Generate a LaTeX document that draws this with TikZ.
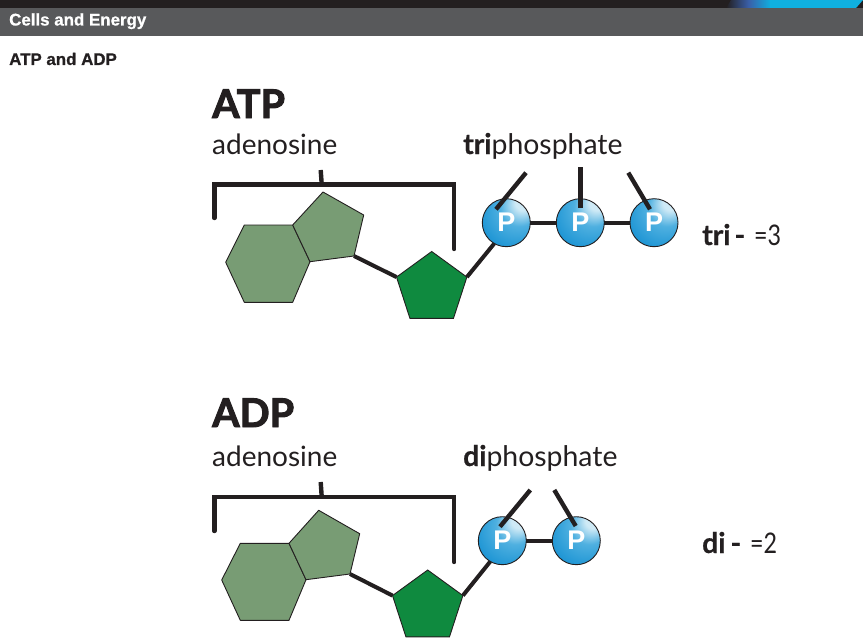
\documentclass[tikz,border=0pt]{standalone}
\usepackage{fontspec}
\setmainfont{Lato}[BoldFeatures={FakeBold=2.4}]
\newfontfamily\wordfont{Lato}[BoldFeatures={FakeBold=0.6}]
\newfontfamily\digitfont{Lato}[FakeStretch=0.82]
\newfontfamily\headfont{Liberation Sans}[BoldFeatures={FakeBold=0.8}]
\newfontfamily\ballfont{Liberation Sans}
\usetikzlibrary{shapes.geometric}
\definecolor{barblack}{HTML}{231F20}
\definecolor{bandgray}{HTML}{58595B}
\definecolor{ringgreen}{HTML}{789C74}
\definecolor{sugargreen}{HTML}{0F8A3F}
\definecolor{skyblue}{HTML}{0FB0E0}
\definecolor{swooshblue}{HTML}{3A5FA8}
\definecolor{ballglow}{HTML}{CFEAF6}
\definecolor{ballmid}{HTML}{4FB0E0}
\definecolor{ballbody}{HTML}{2197D5}
\definecolor{ballrim}{HTML}{1B86C4}
\pgfdeclareradialshading{phosball}{\pgfpoint{20bp}{24bp}}{%
  color(0bp)=(ballglow);
  color(8bp)=(ballglow);
  color(20bp)=(ballmid);
  color(36bp)=(ballbody);
  color(62bp)=(ballrim)}

\begin{document}
\begin{tikzpicture}[x=1pt, y=-1pt, >=stealth]
    \tikzset{
      ring/.style={draw=barblack, fill=ringgreen, line width=0.9pt, line join=round},
      sugar/.style={draw=barblack, fill=sugargreen, line width=0.9pt, regular polygon, regular polygon sides=5, minimum size=74pt, inner sep=0pt, outer sep=0pt},
      phos/.style={circle, draw=barblack, line width=0.9pt, shading=phosball, minimum size=48pt, inner sep=0pt, outer sep=0pt, text=white, font=\ballfont\bfseries\fontsize{27}{27}\selectfont},
      bar/.style={draw=barblack, line width=4.4pt},
      link/.style={draw=barblack, line width=4pt},
      bigname/.style={anchor=base west, inner sep=0pt, text=barblack, font=\fontsize{39.5}{40}\selectfont\bfseries},
      word/.style={anchor=base west, inner sep=0pt, text=barblack, font=\wordfont\fontsize{28.4}{28.4}\selectfont},
      stem/.style={word, font=\wordfont\fontsize{28}{28}\selectfont},
      head/.style={anchor=base west, inner sep=0pt, font=\headfont\bfseries\fontsize{16.9}{16.9}\selectfont}
    }
    \useasboundingbox (0,0) rectangle (863,642);

    % Page header
    \fill[barblack] (0,0) rectangle (863,8);
    \fill[bandgray] (0,8) rectangle (863,36);
    \shade[left color=barblack, right color=skyblue, middle color=swooshblue] (726,8) -- (731,0) -- (771,0) -- (771,8) -- cycle;
    \fill[skyblue] (770,8) -- (770,0) -- (863,0) -- (856,8) -- cycle;
    \node[head, text=white] (chapter) at (9,25.5) {Cells and Energy};
    \node[head, text=barblack] (section) at (9,65) {ATP and ADP};

    % ATP
    \node[bigname] (atpname) at (212,118) {ATP};
    \node[stem] (atpword) at (212,154) {adenosine};
    \node[word] (triword) at (463,154) {\textbf{tri}phosphate};
    \node[word] (tricount) at (702,245) {\textbf{tri}\hspace{4pt}\textbf{-}\hspace{9pt}{\digitfont =3}};

    \draw[ring] (244.3,225) -- (292.7,225) -- (310,261.7) -- (292.7,302.3) -- (244.3,302.3) -- (225.7,262.3) -- cycle;
    \draw[ring] (323,192) -- (363.7,215) -- (354,256) -- (310,261.7) -- (292.7,225) -- cycle;
    \coordinate (atpjoin) at (354,256);
    \node[sugar] (atpsugar) at (431.7,288.5) {};
    \node[phos] (atpa) at (506.3,222.7) {P};
    \node[phos] (atpb) at (580.3,222.7) {P};
    \node[phos] (atpc) at (654,222.7) {P};

    \draw[bar, line cap=round, line join=miter] (214.3,218) -- (214.3,184.3) -- (454.2,184.3) -- (454.2,249);
    \draw[bar] (320.7,170) -- (321.7,184);
    \draw[link] (atpjoin) -- (atpsugar.corner 2);
    \draw[link] (atpsugar.corner 5) -- (atpa.240);
    \draw[link] (atpa) -- (atpb);
    \draw[link] (atpb) -- (atpc);
    \draw[bar] (526,172.7) -- (496,209.3);
    \draw[bar] (580.3,167.3) -- (580.3,208.3);
    \draw[bar] (628.3,172.7) -- (650,209.3);

    % ADP
    \node[bigname] (adpname) at (212,427) {ADP};
    \node[stem] (adpword) at (212,466) {adenosine};
    \node[word] (diword) at (463,466) {\textbf{di}phosphate};
    \node[word] (dicount) at (702,553) {\textbf{di}\hspace{5pt}\textbf{-}\hspace{9pt}{\digitfont =2}};

    \draw[ring] (240.3,543.3) -- (289,543.3) -- (306,579.7) -- (289,620.3) -- (240.3,620.3) -- (221.7,580) -- cycle;
    \draw[ring] (318.7,510.3) -- (359.7,533.7) -- (350,574) -- (306,579.7) -- (289,543.3) -- cycle;
    \coordinate (adpjoin) at (350,574);
    \node[sugar] (adpsugar) at (427.7,607) {};
    \node[phos] (adpa) at (502.3,540.7) {P};
    \node[phos] (adpb) at (576.3,540.7) {P};

    \draw[bar, line cap=round, line join=miter] (214.3,531) -- (214.3,496.7) -- (454.2,496.7) -- (454.2,562);
    \draw[bar] (320.7,482) -- (321.7,496.7);
    \draw[link] (adpjoin) -- (adpsugar.corner 2);
    \draw[link] (adpsugar.corner 5) -- (adpa.240);
    \draw[link] (adpa) -- (adpb);
    \draw[bar] (530.3,490) -- (500,526.7);
    \draw[bar] (554.3,490) -- (575.7,526);
\end{tikzpicture}
\end{document}
